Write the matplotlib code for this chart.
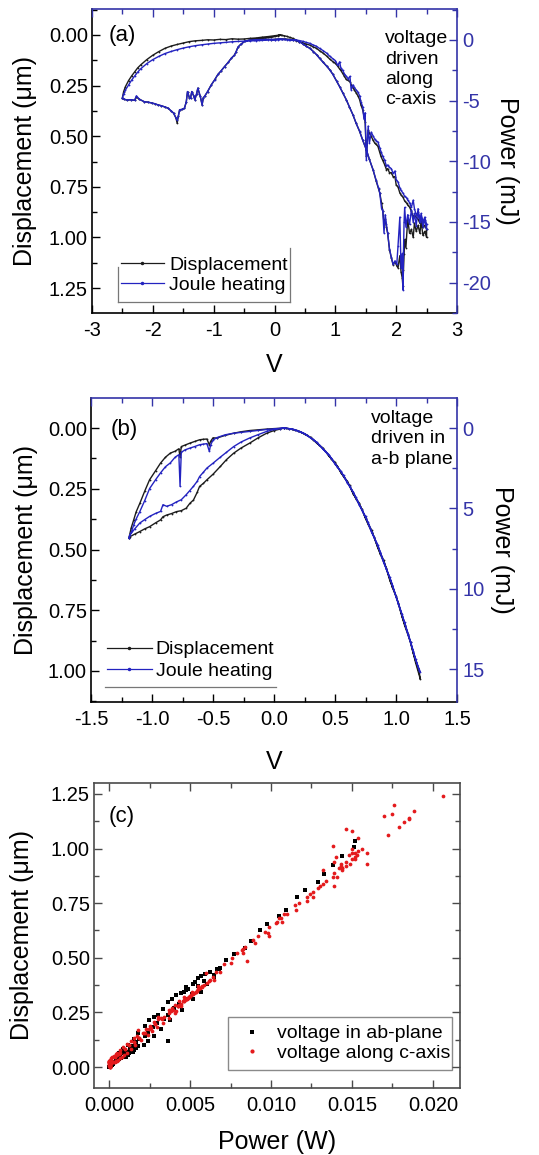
import numpy as np
import matplotlib
matplotlib.use("Agg")
import matplotlib.pyplot as plt
from matplotlib.ticker import MultipleLocator, FormatStrFormatter
from matplotlib.lines import Line2D

# ---------------------------------------------------------------------------
# (a) voltage driven along the c-axis: displacement (um) and Joule heating (mJ)
# ---------------------------------------------------------------------------
# sweep 0 -> -2.5 V (upper branch)
a1_v = [0.10, 0.05, 0.0, -0.1, -0.2, -0.3, -0.4, -0.5, -0.6, -0.7, -0.8, -0.9, -1.0,
        -1.1, -1.2, -1.3, -1.4, -1.5, -1.6, -1.7, -1.8, -1.9, -2.0, -2.1, -2.2, -2.25,
        -2.3, -2.35, -2.4, -2.45, -2.48, -2.5]
a1_disp = [0.0, 0.002, 0.004, 0.008, 0.011, 0.015, 0.017, 0.02, 0.021, 0.019, 0.023,
           0.022, 0.025, 0.024, 0.027, 0.029, 0.033, 0.04, 0.047, 0.055, 0.066, 0.082,
           0.1, 0.122, 0.148, 0.163, 0.183, 0.203, 0.226, 0.255, 0.28, 0.31]
a1_pow = [0.05, 0.04, 0.02, 0.0, -0.04, -0.06, -0.08, -0.1, -0.12, -0.15, -0.2, -0.24,
          -0.28, -0.34, -0.4, -0.47, -0.56, -0.67, -0.8, -0.95, -1.12, -1.35, -1.62,
          -1.95, -2.38, -2.66, -2.98, -3.32, -3.72, -4.12, -4.45, -4.75]

# sweep -2.5 -> 0 V (lower branch)
a2_v = [-2.5, -2.47, -2.42, -2.36, -2.30, -2.27, -2.22, -2.14, -2.08, -2.02, -1.97,
        -1.92, -1.86, -1.80, -1.75, -1.70, -1.66, -1.62, -1.60, -1.58, -1.56, -1.52,
        -1.48, -1.45, -1.43, -1.40, -1.38, -1.36, -1.33, -1.31, -1.28, -1.26, -1.22,
        -1.19, -1.17, -1.15, -1.10, -1.04, -0.98, -0.93, -0.88, -0.82, -0.76, -0.71,
        -0.66, -0.63, -0.60, -0.55, -0.49, -0.42, -0.33, -0.25, -0.16, -0.05, 0.05]
a2_disp = [0.31, 0.318, 0.322, 0.32, 0.323, 0.307, 0.318, 0.33, 0.332, 0.336, 0.34,
           0.345, 0.35, 0.356, 0.362, 0.375, 0.386, 0.41, 0.436, 0.40, 0.37, 0.368,
           0.362, 0.33, 0.28, 0.31, 0.312, 0.28, 0.30, 0.32, 0.29, 0.263, 0.304, 0.345,
           0.31, 0.304, 0.28, 0.247, 0.22, 0.195, 0.178, 0.156, 0.135, 0.115, 0.10,
           0.082, 0.06, 0.045, 0.032, 0.026, 0.021, 0.019, 0.016, 0.012, 0.005]
a2_pow = [-4.75, -4.89, -4.95, -4.92, -4.97, -4.60, -4.89, -5.09, -5.12, -5.19, -5.25,
          -5.34, -5.42, -5.52, -5.62, -5.84, -6.02, -6.42, -6.62, -6.25, -5.75, -5.72,
          -5.62, -5.09, -4.25, -4.75, -4.79, -4.25, -4.59, -4.92, -4.42, -3.97, -4.65,
          -5.34, -4.75, -4.65, -4.25, -3.71, -3.26, -2.84, -2.56, -2.19, -1.84, -1.51,
          -1.26, -0.96, -0.59, -0.34, -0.12, -0.02, 0.02, 0.03, 0.04, 0.05, 0.05]

# sweep 0 -> +2.5 V (steep branch)
a3_v = [0.08, 0.12, 0.16, 0.2, 0.25, 0.3, 0.35, 0.41, 0.47, 0.52, 0.58, 0.64, 0.70,
        0.74, 0.80, 0.86, 0.91, 0.96, 1.02, 1.07, 1.12, 1.18, 1.23, 1.29, 1.34, 1.40,
        1.45, 1.51, 1.56, 1.62, 1.67, 1.71, 1.73, 1.76, 1.78, 1.80, 1.82, 1.84, 1.86,
        1.89, 1.92, 1.95, 1.98, 2.01, 2.03, 2.06, 2.08, 2.10, 2.11, 2.12, 2.13, 2.14,
        2.16, 2.19, 2.22, 2.25, 2.28, 2.30, 2.33, 2.36, 2.39, 2.41, 2.44, 2.47, 2.50]
a3_disp = [0.0, 0.002, 0.004, 0.007, 0.012, 0.017, 0.024, 0.033, 0.045, 0.055, 0.066,
           0.082, 0.10, 0.115, 0.135, 0.155, 0.173, 0.195, 0.228, 0.255, 0.285, 0.32,
           0.355, 0.395, 0.435, 0.477, 0.52, 0.567, 0.615, 0.666, 0.72, 0.76, 0.78,
           0.83, 0.87, 0.93, 0.91, 0.95, 0.98, 1.06, 1.10, 1.135, 1.12, 1.14, 1.15,
           1.09, 1.17, 1.20, 1.24, 1.16, 1.08, 1.01, 1.05, 0.91, 0.98, 0.96, 1.0, 0.93,
           0.97, 0.94, 0.98, 0.92, 0.99, 0.97, 1.00]
a3_pow = [0.05, 0.05, 0.04, 0.03, 0.01, -0.02, -0.04, -0.14, -0.34, -0.51, -0.69,
          -0.96, -1.26, -1.51, -1.84, -2.17, -2.47, -2.84, -3.39, -3.84, -4.34, -4.92,
          -5.50, -6.17, -6.84, -7.54, -8.25, -9.04, -9.84, -10.69, -11.55, -12.2,
          -12.6, -13.9, -14.1, -15.9, -14.4, -15.2, -15.9, -17.2, -17.9, -18.5, -18.2,
          -18.5, -17.0, -14.6, -18.8, -17.6, -20.6, -17.5, -15.0, -13.8, -15.4, -14.4,
          -15.2, -14.0, -15.0, -14.3, -15.3, -13.9, -15.0, -14.6, -15.4, -14.8, -15.6]

# sweep +2.5 -> 0 V (return branch)
a4_v = [2.50, 2.47, 2.44, 2.41, 2.39, 2.36, 2.33, 2.30, 2.28, 2.25, 2.22, 2.19, 2.17,
        2.14, 2.11, 2.08, 2.06, 2.03, 2.00, 1.98, 1.95, 1.92, 1.89, 1.86, 1.84, 1.81,
        1.78, 1.75, 1.73, 1.70, 1.67, 1.65, 1.62, 1.59, 1.56, 1.54, 1.51, 1.49, 1.47,
        1.45, 1.42, 1.40, 1.37, 1.34, 1.31, 1.29, 1.26, 1.24, 1.21, 1.18, 1.15, 1.12,
        1.09, 1.07, 1.04, 1.0, 0.96, 0.91, 0.86, 0.80, 0.74, 0.69, 0.63, 0.58, 0.52,
        0.47, 0.41, 0.35, 0.30, 0.24, 0.18, 0.12, 0.06, 0.0, -0.05]
a4_disp = [0.96, 0.94, 0.95, 0.92, 0.93, 0.91, 0.90, 0.89, 0.90, 0.87, 0.85, 0.84,
           0.83, 0.82, 0.80, 0.79, 0.78, 0.75, 0.74, 0.70, 0.70, 0.68, 0.68, 0.66,
           0.665, 0.64, 0.62, 0.60, 0.58, 0.55, 0.54, 0.535, 0.52, 0.50, 0.485, 0.47,
           0.60, 0.43, 0.40, 0.37, 0.345, 0.32, 0.30, 0.285, 0.27, 0.26, 0.245, 0.23,
           0.225, 0.22, 0.205, 0.19, 0.175, 0.168, 0.155, 0.14, 0.132, 0.12, 0.105,
           0.09, 0.078, 0.066, 0.058, 0.05, 0.045, 0.04, 0.034, 0.028, 0.025, 0.022,
           0.02, 0.02, 0.021, 0.022, 0.025]
a4_pow = [-15.2, -14.6, -15.0, -14.3, -14.9, -14.2, -14.4, -13.9, -13.2, -13.8, -13.4,
          -13.2, -13.0, -12.9, -12.6, -12.4, -12.2, -11.7, -11.5, -10.8, -11.0, -10.6,
          -10.5, -10.3, -10.4, -9.9, -9.6, -9.2, -8.9, -8.4, -8.3, -8.2, -7.9, -7.6,
          -8.5, -7.1, -9.9, -6.0, -6.5, -5.5, -5.1, -4.6, -4.3, -4.1, -3.9, -3.7, -4.1,
          -3.0, -3.2, -3.0, -2.8, -2.5, -2.3, -1.8, -2.1, -1.7, -1.55, -1.35, -1.1,
          -0.88, -0.7, -0.52, -0.4, -0.28, -0.2, -0.12, -0.05, 0.0, 0.02, 0.03, 0.04,
          0.04, 0.03, 0.02, 0.0]

# ---------------------------------------------------------------------------
# (b) voltage driven in the a-b plane
# ---------------------------------------------------------------------------
b1_v = [0.08, 0.12, 0.17, 0.22, 0.27, 0.32, 0.37, 0.42, 0.47, 0.52, 0.57, 0.62, 0.67,
        0.72, 0.77, 0.82, 0.87, 0.92, 0.97, 1.02, 1.07, 1.12, 1.16, 1.2]
b1_disp = [0.0, 0.002, 0.008, 0.017, 0.029, 0.047, 0.07, 0.094, 0.127, 0.157, 0.2,
           0.236, 0.29, 0.333, 0.395, 0.447, 0.518, 0.575, 0.655, 0.72, 0.812, 0.882,
           0.965, 1.035]
b1_pow = [0.0, 0.03, 0.1, 0.24, 0.45, 0.7, 1.03, 1.45, 1.87, 2.42, 2.95, 3.62, 4.3,
          5.1, 5.85, 6.8, 7.7, 8.75, 9.75, 10.95, 12.1, 13.3, 14.4, 15.2]

b2_v = [1.19, 1.14, 1.10, 1.05, 1.0, 0.95, 0.9, 0.85, 0.8, 0.75, 0.7, 0.65, 0.6, 0.55,
        0.5, 0.45, 0.4, 0.35, 0.3, 0.25, 0.2, 0.15, 0.1]
b2_disp = [1.005, 0.925, 0.848, 0.778, 0.69, 0.628, 0.545, 0.492, 0.42, 0.372, 0.31,
           0.272, 0.218, 0.185, 0.141, 0.115, 0.081, 0.062, 0.038, 0.025, 0.011,
           0.005, 0.001]
b2_pow = [15.1, 13.85, 12.9, 11.6, 10.5, 9.3, 8.4, 7.25, 6.5, 5.5, 4.8, 3.98, 3.4, 2.7,
          2.25, 1.65, 1.3, 0.88, 0.62, 0.34, 0.2, 0.06, 0.02]

b3_v = [0.08, 0.0, -0.06, -0.13, -0.2, -0.27, -0.33, -0.40, -0.47, -0.50, -0.52, -0.53,
        -0.55, -0.58, -0.61, -0.65, -0.69, -0.73, -0.76, -0.77, -0.78, -0.81, -0.85,
        -0.89, -0.93, -0.97, -1.02, -1.06, -1.10, -1.13, -1.15, -1.17, -1.19]
b3_disp = [0.0, 0.002, 0.004, 0.007, 0.01, 0.015, 0.021, 0.03, 0.041, 0.04, 0.055,
           0.069, 0.045, 0.046, 0.048, 0.055, 0.062, 0.07, 0.076, 0.12, 0.085, 0.095,
           0.103, 0.12, 0.144, 0.175, 0.213, 0.26, 0.31, 0.345, 0.378, 0.41, 0.454]
b3_pow = [0.0, 0.05, 0.09, 0.15, 0.21, 0.27, 0.32, 0.42, 0.6, 0.75, 1.06, 1.45, 0.97,
          1.0, 1.04, 1.15, 1.25, 1.36, 1.51, 3.62, 1.66, 1.81, 2.17, 2.41, 2.79, 3.21,
          3.77, 4.52, 5.2, 5.66, 6.03, 6.48, 6.85]

b4_v = [-1.19, -1.18, -1.14, -1.10, -1.06, -1.02, -0.97, -0.93, -0.91, -0.88, -0.84,
        -0.80, -0.76, -0.72, -0.69, -0.66, -0.63, -0.61, -0.58, -0.55, -0.50, -0.44,
        -0.39, -0.33, -0.27, -0.20, -0.13, -0.06, 0.0, 0.05, 0.08]
b4_disp = [0.454, 0.447, 0.436, 0.426, 0.415, 0.406, 0.39, 0.378, 0.365, 0.358, 0.352,
           0.344, 0.34, 0.33, 0.31, 0.296, 0.265, 0.24, 0.228, 0.213, 0.19, 0.158,
           0.13, 0.103, 0.082, 0.062, 0.04, 0.021, 0.01, 0.004, 0.0]
b4_pow = [6.85, 6.64, 6.26, 5.91, 5.70, 5.50, 5.31, 5.19, 4.77, 4.87, 4.77, 4.60, 4.46,
          4.15, 3.89, 3.62, 3.32, 3.02, 2.76, 2.49, 2.19, 1.81, 1.51, 1.15, 0.87, 0.62,
          0.41, 0.21, 0.09, 0.03, 0.0]

labels_ab = ["Displacement", "Joule heating"]
labels_c = ["voltage in ab-plane", "voltage along c-axis"]

# ---------------------------------------------------------------------------
plt.rcParams["font.family"] = ["Liberation Sans", "DejaVu Sans"]
plt.rcParams["axes.unicode_minus"] = False

BLACK = "#1c1c1c"
BLUE = "#2323c0"
BLUE_AX = "#3434a8"
RED = "#e41a1c"
TICK_FS = 14.5
LABEL_FS = 18
TEXT_FS = 14

va = np.concatenate([a1_v, a2_v, a3_v, a4_v])
da = np.concatenate([a1_disp, a2_disp, a3_disp, a4_disp])
pa = np.concatenate([a1_pow, a2_pow, a3_pow, a4_pow])
vb = np.concatenate([b1_v, b2_v, b3_v, b4_v])
db = np.concatenate([b1_disp, b2_disp, b3_disp, b4_disp])
pb = np.concatenate([b1_pow, b2_pow, b3_pow, b4_pow])

fig = plt.figure(figsize=(5.39, 11.55), dpi=100)
W, H = 539.0, 1155.0


def box(x0, y0, x1, y1):
    return [x0 / W, 1 - y1 / H, (x1 - x0) / W, (y1 - y0) / H]


def tick_style(ax, color="k"):
    ax.tick_params(which="both", direction="in", labelsize=TICK_FS, width=1.0,
                   color=color)
    ax.tick_params(which="major", length=6)
    ax.tick_params(which="minor", length=3.5)


def dual_panel(ax, v, disp, powr, xlim, ylim_d, ylim_p, xmaj, xfmt, pmaj,
               dlabel_x, plabel_x, vlabel_y):
    ax.plot(v, disp, color=BLACK, lw=1.0, marker=".", ms=2.6, mew=0)
    ax.set_xlim(*xlim)
    ax.set_ylim(*ylim_d)
    ax.xaxis.set_major_locator(MultipleLocator(xmaj))
    ax.xaxis.set_minor_locator(MultipleLocator(xmaj / 2))
    ax.xaxis.set_major_formatter(FormatStrFormatter(xfmt))
    ax.yaxis.set_major_locator(MultipleLocator(0.25))
    ax.yaxis.set_minor_locator(MultipleLocator(0.125))
    ax.yaxis.set_major_formatter(FormatStrFormatter("%.2f"))
    tick_style(ax)
    ax.tick_params(axis="x", top=False, pad=6)
    ax.tick_params(axis="y", pad=3)
    for s in ax.spines.values():
        s.set_linewidth(1.2)
    ax.spines["top"].set_visible(False)
    ax.spines["right"].set_visible(False)
    ax.set_ylabel("Displacement (\u03bcm)", fontsize=LABEL_FS)
    ax.yaxis.set_label_coords(dlabel_x, 0.5)
    ax.set_xlabel("V", fontsize=LABEL_FS)
    ax.xaxis.set_label_coords(0.5, vlabel_y)

    tw = ax.twinx()
    tw.plot(v, powr, color=BLUE, lw=1.0, marker=".", ms=2.6, mew=0)
    tw.set_ylim(*ylim_p)
    tw.yaxis.set_major_locator(MultipleLocator(pmaj))
    tw.yaxis.set_minor_locator(MultipleLocator(pmaj / 2))
    tw.yaxis.set_major_formatter(FormatStrFormatter("%d"))
    tw.xaxis.set_visible(True)
    tick_style(tw, BLUE_AX)
    tw.tick_params(axis="y", labelcolor=BLUE_AX, pad=4)
    tw.tick_params(axis="x", which="both", bottom=False, top=True,
                   labelbottom=False, labeltop=False)
    for side in ("left", "bottom"):
        tw.spines[side].set_visible(False)
    for side in ("right", "top"):
        tw.spines[side].set_color(BLUE_AX)
        tw.spines[side].set_linewidth(1.2)
    tw.set_ylabel("Power (mJ)", fontsize=LABEL_FS, rotation=270, va="bottom")
    tw.yaxis.set_label_coords(plabel_x, 0.5)
    return tw


# ---------------- panel (a) ----------------
axA = fig.add_axes(box(92, 9, 457, 313))
twA = dual_panel(axA, va, da, pa, (-3, 3), (1.373, -0.128), (-22.5, 2.55), 1, "%d", 5,
                 -0.15, 1.105, -0.13)
handles = [Line2D([], [], color=BLACK, lw=0.9, marker=".", ms=3),
           Line2D([], [], color=BLUE, lw=0.9, marker=".", ms=3)]
twA.legend(handles, labels_ab, loc="center left", bbox_to_anchor=(0.079, 0.125),
           frameon=False, fontsize=TEXT_FS, handlelength=2.2, handletextpad=0.3,
           labelspacing=0.15, borderpad=0, borderaxespad=0, numpoints=1)
for xs, ys in (([0.071, 0.542], [0.036, 0.036]), ([0.542, 0.542], [0.036, 0.214]),
               ([0.071, 0.071], [0.036, 0.15])):
    twA.add_line(Line2D(xs, ys, transform=twA.transAxes, color="#777777", lw=0.9))
twA.text(0.082, 0.914, "(a)", transform=twA.transAxes, fontsize=16, ha="center",
         va="center")
twA.text(0.803, 0.93, "voltage\ndriven\nalong\nc-axis", transform=twA.transAxes,
         fontsize=TEXT_FS, ha="left", va="top", linespacing=1.25)

# ---------------- panel (b) ----------------
axB = fig.add_axes(box(91, 398, 457, 702))
twB = dual_panel(axB, vb, db, pb, (-1.5, 1.5), (1.128, -0.124), (17.05, -1.87), 0.5,
                 "%.1f", 5, -0.145, 1.09, -0.158)
twB.legend(handles, labels_ab, loc="center left", bbox_to_anchor=(0.044, 0.137),
           frameon=False, fontsize=TEXT_FS, handlelength=2.3, handletextpad=0.2,
           labelspacing=0.2, borderpad=0, borderaxespad=0, numpoints=1)
twB.add_line(Line2D([0.038, 0.505], [0.049, 0.049], transform=twB.transAxes,
                    color="#777777", lw=0.9))
twB.text(0.09, 0.895, "(b)", transform=twB.transAxes, fontsize=16, ha="center",
         va="center")
twB.text(0.765, 0.96, "voltage\ndriven in\na-b plane", transform=twB.transAxes,
         fontsize=TEXT_FS, ha="left", va="top", linespacing=1.25)

# ---------------- panel (c) ----------------
axC = fig.add_axes(box(94, 783, 460, 1088))
GREY = "#4a4a4a"
axC.plot(pb / 1000.0, db, "s", color="black", ms=2.2, mew=0)
axC.plot(np.abs(pa) / 1000.0, da, "o", color=RED, ms=2.7, mew=0)
axC.set_xlim(-0.00093, 0.02167)
axC.set_ylim(-0.096, 1.30)
axC.xaxis.set_major_locator(MultipleLocator(0.005))
axC.xaxis.set_minor_locator(MultipleLocator(0.0025))
axC.xaxis.set_major_formatter(FormatStrFormatter("%.3f"))
axC.yaxis.set_major_locator(MultipleLocator(0.25))
axC.yaxis.set_minor_locator(MultipleLocator(0.125))
axC.yaxis.set_major_formatter(FormatStrFormatter("%.2f"))
tick_style(axC, GREY)
axC.tick_params(which="both", top=True, right=True)
axC.tick_params(axis="x", pad=6)
axC.tick_params(axis="y", pad=3)
for s in axC.spines.values():
    s.set_color(GREY)
    s.set_linewidth(1.2)
axC.set_xlabel("Power (W)", fontsize=LABEL_FS)
axC.xaxis.set_label_coords(0.5, -0.138)
axC.set_ylabel("Displacement (\u03bcm)", fontsize=LABEL_FS)
axC.yaxis.set_label_coords(-0.165, 0.5)
hc = [Line2D([], [], ls="none", marker="s", color="black", ms=2.6, mew=0),
      Line2D([], [], ls="none", marker="o", color=RED, ms=3.0, mew=0)]
axC.legend(hc, labels_c, loc="center left", bbox_to_anchor=(0.404, 0.146),
           frameon=False, fontsize=TEXT_FS, handlelength=1.0, handletextpad=0.8,
           labelspacing=0.1, borderpad=0, borderaxespad=0)
axC.add_patch(plt.Rectangle((0.366, 0.059), 0.612, 0.174, transform=axC.transAxes,
                            fill=False, ec="#8a8a8a", lw=1.0))
axC.text(0.077, 0.889, "(c)", transform=axC.transAxes, fontsize=16, ha="center",
         va="center")

fig.savefig("out.png", dpi=100)
